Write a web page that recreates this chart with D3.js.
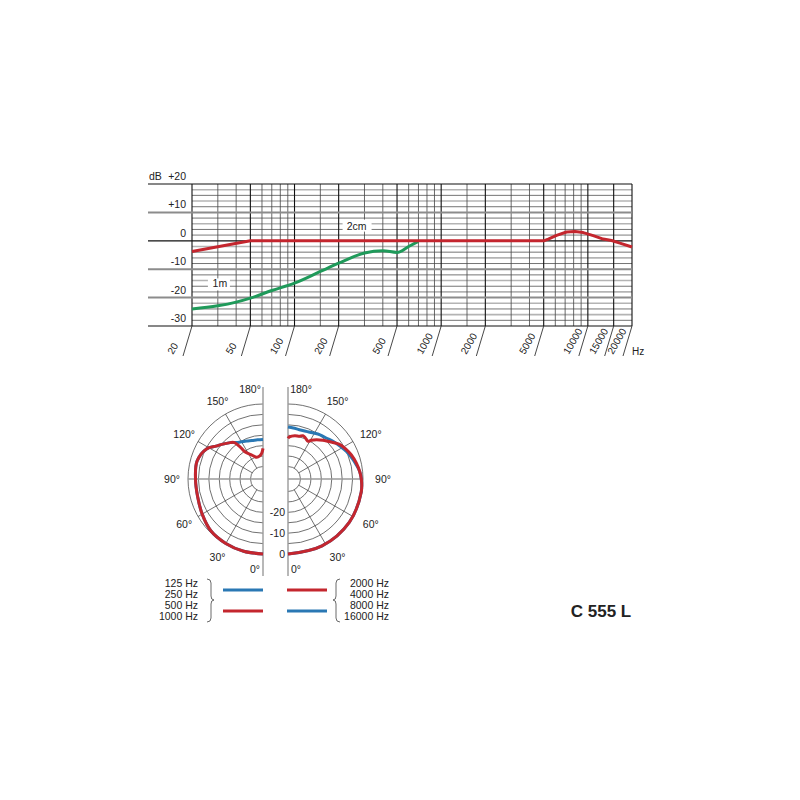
<!DOCTYPE html>
<html><head><meta charset="utf-8">
<script src="https://cdn.jsdelivr.net/npm/d3@7"></script>
<style>
body{margin:0;background:#fff}
svg{display:block}
text{font-family:"Liberation Sans",Arial,Helvetica,sans-serif;fill:#222}
</style>
</head><body><svg id="c" width="800" height="800"></svg>
<script>
// ---------- frequency response data ----------
const freqTicks = [20,50,100,200,500,1000,2000,5000,10000,15000,20000];
const freqMinor = [30,40,60,70,80,90,150,300,400,600,700,800,900,1500,3000,4000,6000,7000,8000,9000];
const dbLabels = [20,10,0,-10,-20,-30];
const curve2cmFreq = [20,50,1000,5000,5370,6120,7160,8170,9300,10880,12730,14520,16540,20000];
const curve2cmDb   = [-3.8,0,0,0,0.6,1.9,3.1,3.3,2.9,1.8,0.6,0.1,-0.8,-2.2];
const curve1mFreq  = [20,30,40,50,70,100,150,200,300,400,500,600,700];
const curve1mDb    = [-24,-22.9,-21.6,-20.2,-17.5,-14.9,-10.8,-7.9,-4.3,-3.5,-4.1,-2.0,-0.2];
const curveNames = ["2cm","1m"];

// ---------- polar data ----------
const polarRings = [0,-5,-10,-15,-20,-25,-30];
const polarSpokes = [30,60,120,150];
const polarAngleLabels = [0,30,60,90,120,150,180];
const polarRingLabels = [0,-10,-20];
// left half: 500/1000 Hz (red), 125/250 Hz (blue)
const lowRedAngles = [0,15,30,45,60,75,90,105,118,125,132,138,142,144.5,146.5,155,164,172,177,180];
const lowRedDb     = [0,-0.1,-0.3,-0.7,-2.3,-3.5,-3.6,-3.2,-5.3,-8.5,-10.8,-12.5,-13.8,-17,-20.5,-23.3,-25.2,-24.8,-23.7,-21.3];
const lowBlueAngles = [0,15,30,45,60,75,90,105,118,125,132,138,142,146,150,157,164,172,180];
const lowBlueDb     = [0,-0.1,-0.3,-0.7,-2.3,-3.5,-3.6,-3.2,-5.3,-8.5,-10.8,-12.5,-13.8,-14.8,-15.4,-16.2,-16.8,-17,-17];
// right half: 2000/4000 Hz (red), 8000/16000 Hz (blue)
const highRedAngles = [0,27,55,80,90,96,103,111,117,124,129,138,144,149,152,157,161,165,171,178,180];
const highRedDb     = [0,0,0,-0.3,-0.8,-1.4,-2.3,-3.5,-4.7,-6.2,-8.2,-11,-12.7,-14.3,-15.5,-14.6,-14,-14.8,-15,-15.8,-16.5];
const highBlueAngles = [0,27,55,80,90,96,102,108,115,122,130,137,144,152,159,167,174,180];
const highBlueDb     = [0,0,0,-0.3,-0.8,-1.4,-2.6,-3.7,-4.9,-6.4,-7.8,-9.1,-9.8,-10.9,-11.5,-11.7,-11.4,-11.0];

const legendLeft = ["125 Hz","250 Hz","500 Hz","1000 Hz"];
const legendRight = ["2000 Hz","4000 Hz","8000 Hz","16000 Hz"];
const modelName = "C 555 L";

const RED = "#c4262e", BLUE = "#2a78b4", GREEN = "#1f9a5a";

const svg = d3.select("#c");

// ================= TOP CHART =================
const x = d3.scaleLog().domain([20,20000]).range([192,632]);
const y = d3.scaleLinear().domain([-30,20]).range([326,184]);
const topG = svg.append("g");

d3.range(-28,20,2).filter(v => v % 10 !== 0).forEach(v => {
  const grey = (Math.abs(v/2) % 2) === 1;
  topG.append("line").attr("x1",x(20)).attr("x2",x(20000)).attr("y1",y(v)).attr("y2",y(v))
    .attr("stroke", grey ? "#b4b4b4" : "#3a3a3a").attr("stroke-width", grey ? 1.6 : 0.7);
});
freqMinor.forEach(f => {
  topG.append("line").attr("x1",x(f)).attr("x2",x(f)).attr("y1",y(20)).attr("y2",y(-30))
    .attr("stroke","#444").attr("stroke-width",0.8);
});
freqTicks.forEach(f => {
  topG.append("line").attr("x1",x(f)).attr("x2",x(f)).attr("y1",y(20)).attr("y2",y(-30))
    .attr("stroke","#111").attr("stroke-width",1.1);
});
dbLabels.forEach(v => {
  const grey = (v === 10 || v === -10 || v === -20);
  topG.append("line").attr("x1",148).attr("x2",x(20000)).attr("y1",y(v)).attr("y2",y(v))
    .attr("stroke", grey ? "#8c8c8c" : "#111").attr("stroke-width", grey ? 2 : 1.2);
});
dbLabels.forEach(v => {
  topG.append("text").attr("x",186).attr("y",y(v)-4).attr("text-anchor","end")
    .attr("font-size",10.5).text(v > 0 ? "+" + v : String(v));
});
topG.append("text").attr("x",149).attr("y",y(20)-4).attr("font-size",10.5).text("dB");

freqTicks.forEach(f => {
  topG.append("line").attr("x1",x(f)).attr("y1",y(-30)).attr("x2",x(f)-9).attr("y2",y(-30)+30)
    .attr("stroke","#333").attr("stroke-width",0.9);
  topG.append("text").attr("text-anchor","start").attr("font-size",10)
    .attr("transform",`translate(${x(f)-19},${y(-30)+29}) rotate(-60)`).text(f);
});
topG.append("text").attr("x",x(20000)).attr("y",y(-30)+29).attr("font-size",10).text("Hz");

topG.append("rect").attr("x",x(265)-14).attr("y",y(5)-7).attr("width",29).attr("height",12).attr("fill","#fff");
topG.append("text").attr("x",x(265)).attr("y",y(5)+3).attr("text-anchor","middle").attr("font-size",10.5).text(curveNames[0]);
topG.append("rect").attr("x",x(31)-12).attr("y",y(-15)-5).attr("width",22).attr("height",12).attr("fill","#fff");
topG.append("text").attr("x",x(31)).attr("y",y(-15)+4).attr("text-anchor","middle").attr("font-size",10.5).text(curveNames[1]);

const smoothLine = d3.line().x(d => x(d[0])).y(d => y(d[1])).curve(d3.curveMonotoneX);
const straightLine = d3.line().x(d => x(d[0])).y(d => y(d[1])).curve(d3.curveLinear);
topG.append("path").datum(d3.zip(curve1mFreq, curve1mDb)).attr("d",smoothLine)
  .attr("fill","none").attr("stroke",GREEN).attr("stroke-width",3);
topG.append("path").datum(d3.zip(curve2cmFreq, curve2cmDb)).attr("d",straightLine)
  .attr("fill","none").attr("stroke",RED).attr("stroke-width",3).attr("stroke-linejoin","round");

// ================= POLAR =================
const r = d3.scaleLinear().domain([-36,0]).range([0,75]);
const cy = 479;
const halves = [
  {cx:263, side:-1, curves:[[lowBlueAngles,lowBlueDb,BLUE],[lowRedAngles,lowRedDb,RED]]},
  {cx:288, side: 1, curves:[[highBlueAngles,highBlueDb,BLUE],[highRedAngles,highRedDb,RED]]}
];
const toRad = d => d*Math.PI/180;

halves.forEach(h => {
  const g = svg.append("g").attr("transform",`translate(${h.cx},${cy})`);
  polarRings.forEach(v => {
    const p = d3.path();
    if (h.side < 0) { p.moveTo(0, r(v)); p.arc(0,0,r(v),Math.PI/2,3*Math.PI/2,false); }
    else { p.moveTo(0, -r(v)); p.arc(0,0,r(v),-Math.PI/2,Math.PI/2,false); }
    g.append("path").attr("d",p.toString()).attr("fill","none").attr("stroke","#333").attr("stroke-width",0.7);
  });
  polarSpokes.forEach(a => {
    const sx = h.side*Math.sin(toRad(a)), sy = Math.cos(toRad(a));
    g.append("line").attr("x1",sx*r(-30)).attr("y1",sy*r(-30)).attr("x2",sx*r(0)).attr("y2",sy*r(0))
      .attr("stroke","#333").attr("stroke-width",0.7);
  });
  g.append("line").attr("x1",0).attr("y1",0).attr("x2",h.side*r(0)).attr("y2",0)
    .attr("stroke","#9a9a9a").attr("stroke-width",1.3);
  g.append("line").attr("x1",0).attr("y1",-92).attr("x2",0).attr("y2",97)
    .attr("stroke","#9a9a9a").attr("stroke-width",1.4);
  polarAngleLabels.forEach(a => {
    let lx = h.side*Math.sin(toRad(a))*91, ly = Math.cos(toRad(a))*90;
    if (a === 0) lx = h.side*8;
    if (a === 180) lx = h.side*13;
    if (h.side > 0 && a > 0 && a < 180) lx += 4;
    g.append("text").attr("x",lx).attr("y",ly+4).attr("text-anchor","middle")
      .attr("font-size",10.5).text(a + "°");
  });
  const radial = d3.lineRadial()
    .angle(d => h.side < 0 ? Math.PI + toRad(d[0]) : Math.PI - toRad(d[0]))
    .radius(d => r(d[1]))
    .curve(d3.curveCatmullRom.alpha(0.5));
  h.curves.forEach(c => {
    g.append("path").datum(d3.zip(c[0], c[1])).attr("d",radial)
      .attr("fill","none").attr("stroke",c[2]).attr("stroke-width",3).attr("stroke-linejoin","round");
  });
});
polarRingLabels.forEach(v => {
  svg.append("text").attr("x",285).attr("y",cy + r(v) + 4).attr("text-anchor","end")
    .attr("font-size",10.5).text(v);
});

// ================= LEGEND =================
const lg = svg.append("g");
const legY = [587,598,609,620];
legendLeft.forEach((t,i) => lg.append("text").attr("x",198).attr("y",legY[i]).attr("text-anchor","end").attr("font-size",10.5).text(t));
legendRight.forEach((t,i) => lg.append("text").attr("x",389).attr("y",legY[i]).attr("text-anchor","end").attr("font-size",10.5).text(t));
lg.append("path").attr("d","M207,579 Q211,579 211,583 L211,596 Q211,600 214,600 Q211,600 211,604 L211,618 Q211,622 207,622")
  .attr("fill","none").attr("stroke","#444").attr("stroke-width",0.8);
lg.append("path").attr("d","M340,579 Q336,579 336,583 L336,596 Q336,600 333,600 Q336,600 336,604 L336,618 Q336,622 340,622")
  .attr("fill","none").attr("stroke","#444").attr("stroke-width",0.8);
const legLines = [[223,590,BLUE],[223,611,RED],[287,590,RED],[287,611,BLUE]];
legLines.forEach(l => lg.append("line").attr("x1",l[0]).attr("x2",l[0]+40).attr("y1",l[1]).attr("y2",l[1])
  .attr("stroke",l[2]).attr("stroke-width",3));

svg.append("text").attr("x",601).attr("y",617).attr("text-anchor","middle")
  .attr("font-size",17).attr("font-weight","bold").attr("fill","#111").text(modelName);
</script>
</body></html>
